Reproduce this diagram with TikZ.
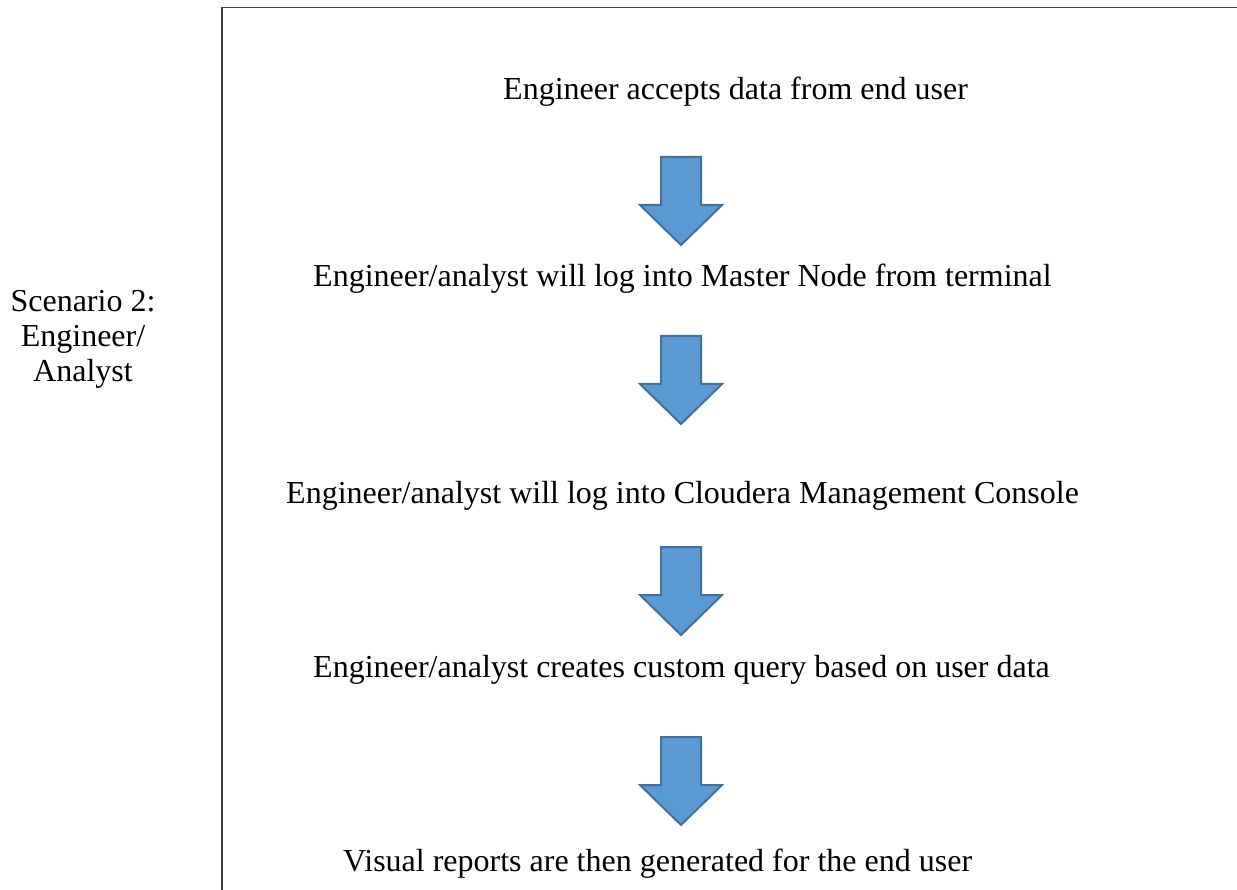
\documentclass[tikz,border=0pt]{standalone}
\usepackage{fontspec}
\setmainfont{Liberation Serif}
\begin{document}
\begin{tikzpicture}[x=1pt,y=-1pt,
  label/.style={font=\fontsize{32}{35}\selectfont, anchor=base west, inner sep=0pt},
  frame/.style={draw=black!75, line width=1.6pt},
  blockarrow/.style={fill=arrowfill, draw=arrowedge, line width=2pt, line join=miter},
  pics/downarrow/.style={code={
    \path[blockarrow] (-20,0) -- (20,0) -- (20,48) -- (41,48) -- (0,88)
      -- (-41,48) -- (-20,48) -- cycle;
  }}]
\definecolor{arrowfill}{HTML}{5B9BD5}
\definecolor{arrowedge}{HTML}{41719C}
\useasboundingbox (0,0) rectangle (1237,890);

% open frame round the flow
\draw[frame] (222,895) -- (222,7.5) -- (1245,7.5);

% side caption
\node[label, align=center, anchor=north] (scen) at (83,290)
  {Scenario 2:\\Engineer/\\Analyst};

% steps of the flow
\node[label] (s1) at (503,100) {Engineer accepts data from end user};
\node[label] (s2) at (313,287) {Engineer/analyst will log into Master Node from terminal};
\node[label] (s3) at (286,503) {Engineer/analyst will log into Cloudera Management Console};
\node[label] (s4) at (313,677) {Engineer/analyst creates custom query based on user data};
\node[label] (s5) at (343,871) {Visual reports are then generated for the end user};

% block arrows between the steps
\coordinate (a1) at (681,157);
\coordinate (a2) at (681,336);
\coordinate (a3) at (681,547);
\coordinate (a4) at (681,737);
\foreach \c in {a1,a2,a3,a4} \pic at (\c) {downarrow};
\end{tikzpicture}
\end{document}
